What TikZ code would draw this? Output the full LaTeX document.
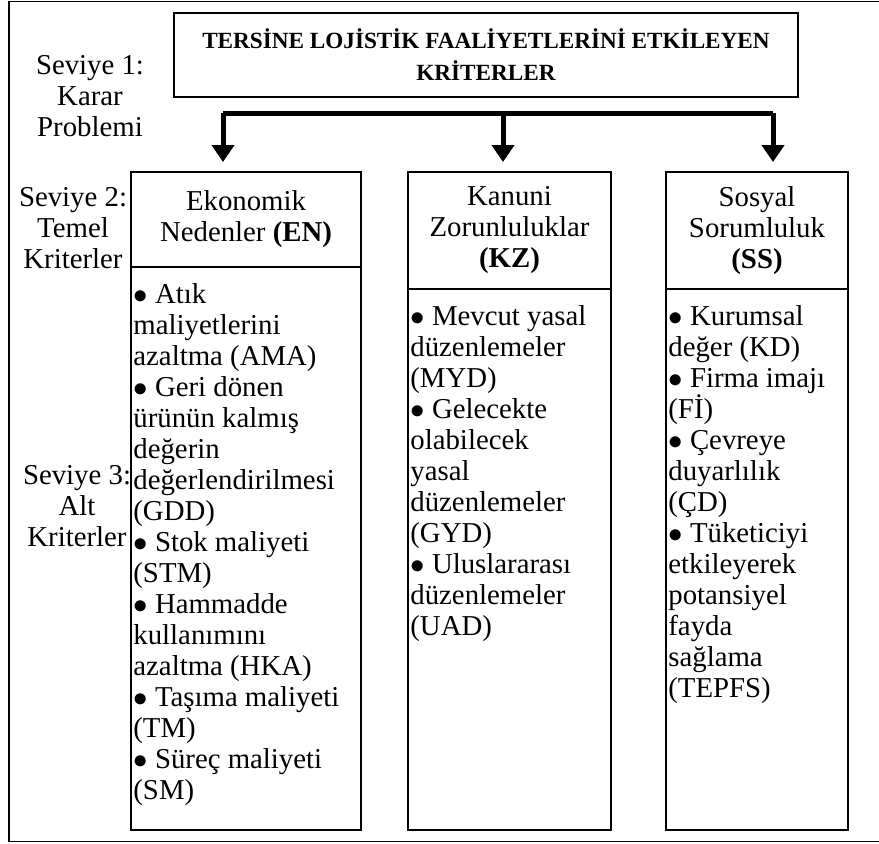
\documentclass[tikz,border=0pt]{standalone}
\usepackage{fontspec}
\setmainfont{Liberation Serif}
\usetikzlibrary{positioning,fit,arrows.meta}

\newcommand{\madd}{$\bullet$\ }
\tikzset{
  kutu/.style={draw, line width=1pt, inner sep=0pt},
  yazi/.style={font=\fontsize{14.4}{15.5}\selectfont},
  orta/.style={yazi, align=center, inner sep=0pt},
  madde/.style={yazi, align=left, inner sep=0pt, anchor=north west},
  ok/.style={line width=2.5pt, -{Triangle[width=11pt,length=8.5pt]}, shorten >=4.5pt},
}

\begin{document}
\begin{tikzpicture}[x=0.5pt, y=-0.5pt]
    \useasboundingbox (0,0) rectangle (879,843);
    \clip (0,0) rectangle (879,843);
    % cerceve
    \draw[line width=0.8pt] (890,1.5) -- (9,1.5) -- (9,841.5) -- (890,841.5);

    % seviye 1
    \node[kutu, fit={(174,13) (798,97)}] (karar) {};
    \node[orta, font=\bfseries\fontsize{11.6}{16}\selectfont] (kararyazi) at (karar.center)
          {TERSİNE LOJİSTİK FAALİYETLERİNİ ETKİLEYEN\\KRİTERLER};

    % seviye 2
    \node[kutu, fit={(131,172) (361,267)}] (en) {};
    \node[kutu, fit={(408,172) (611,289)}] (kz) {};
    \node[kutu, fit={(666,172) (848,289)}] (ss) {};
    \node[orta] (enyazi) at (en.center) {Ekonomik\\Nedenler \textbf{(EN)}};
    \node[orta] (kzyazi) at (kz.center) {Kanuni\\Zorunluluklar\\\textbf{(KZ)}};
    \node[orta] (ssyazi) at (ss.center) {Sosyal\\Sorumluluk\\\textbf{(SS)}};

    % seviye 3
    \node[kutu, fit={(131,267) (361,830)}] (enalt) {};
    \node[kutu, fit={(408,289) (611,830)}] (kzalt) {};
    \node[kutu, fit={(666,289) (848,830)}] (ssalt) {};

    \node[madde] (enmadde) at ([shift={(3,15)}]enalt.north west)
        {\strut\madd Atık\\maliyetlerini\\azaltma (AMA)\\\madd Geri dönen\\ürünün kalmış\\değerin\\değerlendirilmesi\\(GDD)\\\madd Stok maliyeti\\(STM)\\\madd Hammadde\\kullanımını\\azaltma (HKA)\\\madd Taşıma maliyeti\\(TM)\\\madd Süreç maliyeti\\(SM)};
    \node[madde] (kzmadde) at ([shift={(3,15)}]kzalt.north west)
        {\strut\madd Mevcut yasal\\düzenlemeler\\(MYD)\\\madd Gelecekte\\olabilecek\\yasal\\düzenlemeler\\(GYD)\\\madd Uluslararası\\düzenlemeler\\(UAD)};
    \node[madde] (ssmadde) at ([shift={(3,15)}]ssalt.north west)
        {\strut\madd Kurumsal\\değer (KD)\\\madd Firma imajı\\(Fİ)\\\madd Çevreye\\duyarlılık\\(ÇD)\\\madd Tüketiciyi\\etkileyerek\\potansiyel\\fayda\\sağlama\\(TEPFS)};

    % seviye etiketleri
    \node[orta] (s1) at (90,96) {Seviye 1:\\Karar\\Problemi};
    \node[orta] (s2) at (73,228) {Seviye 2:\\Temel\\Kriterler};
    \node[orta] (s3) at (77,506) {Seviye 3:\\Alt\\Kriterler};

    % oklar
    \coordinate (sol) at (223,113);
    \coordinate (ortaok) at (503,113);
    \coordinate (sag) at (773,113);
    \draw[line width=2.5pt] (sol) -- (sag);
    \draw[ok] (sol) -- (sol |- en.north);
    \draw[ok] (ortaok) -- (ortaok |- kz.north);
    \draw[ok] (sag) -- (sag |- ss.north);
\end{tikzpicture}
\end{document}
